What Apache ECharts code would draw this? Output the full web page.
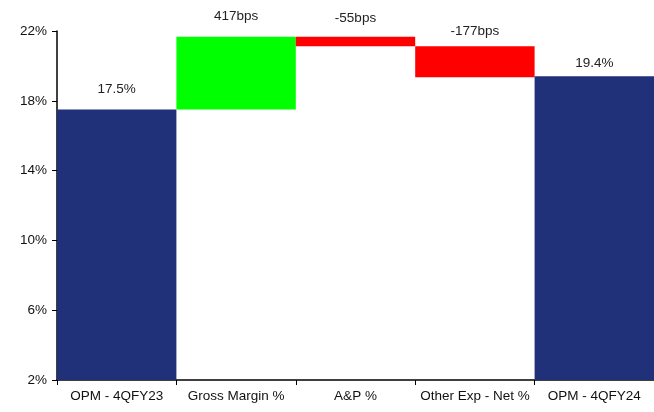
<!DOCTYPE html>
<html><head><meta charset="utf-8">
<script src="https://cdn.jsdelivr.net/npm/echarts@6/dist/echarts.min.js"></script>
<style>html,body{margin:0;padding:0;background:#fff}#c{width:654px;height:412px}</style>
</head><body><div id="c"></div>
<script>
const categories = ['OPM - 4QFY23', 'Gross Margin %', 'A&P %', 'Other Exp - Net %', 'OPM - 4QFY24'];
const startValue = 17.5;
const changesBps = [417, -55, -177];
const endValue = 19.4;
const labelTexts = ['17.5%', '417bps', '-55bps', '-177bps', '19.4%'];
const yTicks = [2, 6, 10, 14, 18, 22];

const navy = '#213179', green = '#00FF00', red = '#FF0000';
const base = [], vis = [];
base.push(0); vis.push({value: startValue, itemStyle: {color: navy}});
let level = startValue;
changesBps.forEach(b => {
  const d = b / 100;
  const lo = d >= 0 ? level : level + d;
  base.push(lo);
  vis.push({value: Math.abs(d), itemStyle: {color: d >= 0 ? green : red}});
  level += d;
});
base.push(0); vis.push({value: endValue, itemStyle: {color: navy}});
const dists = [13, 13, 11, 8, 6];
vis.forEach((v, i) => { v.label = {distance: dists[i]}; });

const font = 'Liberation Sans, Arial, sans-serif';
const chart = echarts.init(document.getElementById('c'));
chart.setOption({
  animation: false,
  grid: {left: 57, top: 31, right: -3, bottom: 32, containLabel: false},
  xAxis: {
    type: 'category', data: categories,
    axisLine: {lineStyle: {color: '#000', width: 1.5}},
    axisTick: {show: true, interval: 0, length: 5, lineStyle: {color: '#000'}, alignWithLabel: false},
    axisLabel: {interval: 0, color: '#111', fontFamily: font, fontSize: 13.5, margin: 9}
  },
  yAxis: {
    type: 'value', min: yTicks[0], max: yTicks[yTicks.length - 1], interval: 4,
    axisLine: {show: true, lineStyle: {color: '#000', width: 1.5}},
    axisTick: {show: true, length: 5, lineStyle: {color: '#000'}},
    splitLine: {show: false},
    axisLabel: {color: '#111', fontFamily: font, fontSize: 13.5, margin: 10, formatter: v => v + '%'}
  },
  series: [
    {type: 'bar', stack: 'w', data: base, itemStyle: {color: 'transparent'}, barCategoryGap: '0%', silent: true},
    {type: 'bar', stack: 'w', data: vis, barCategoryGap: '0%',
     label: {show: true, position: 'top', color: '#222', fontFamily: font, fontSize: 13.5,
       formatter: p => labelTexts[p.dataIndex]}}
  ]
});
</script></body></html>
